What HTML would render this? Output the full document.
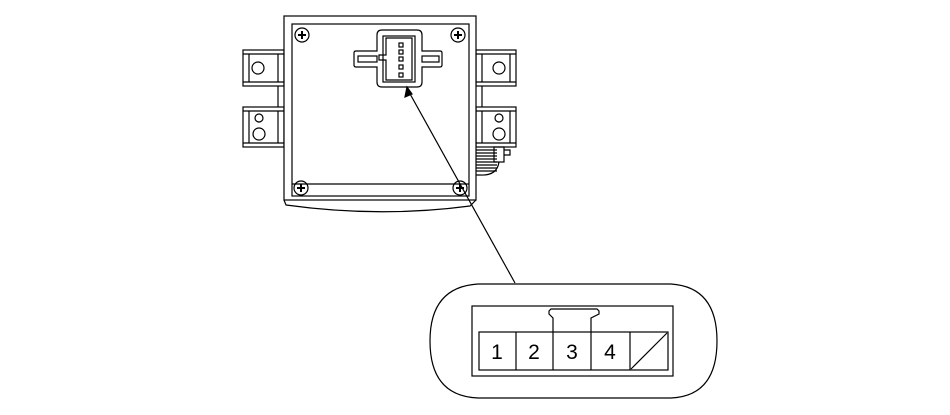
<!DOCTYPE html>
<html><head><style>body{margin:0;background:#fff}svg{display:block}</style></head><body>
<svg width="950" height="415" viewBox="0 0 950 415" xmlns="http://www.w3.org/2000/svg" fill="none" stroke="#000" stroke-width="1.2">
<rect x="0" y="0" width="950" height="415" fill="#fff" stroke="none"/>
<!-- brackets left -->
<rect x="243" y="50" width="41" height="36"/><line x1="243" y1="54" x2="284" y2="54"/><line x1="243" y1="82" x2="284" y2="82"/><line x1="249" y1="54" x2="249" y2="82"/><line x1="278" y1="54" x2="278" y2="82"/>
<circle cx="258" cy="68" r="6"/>
<rect x="243" y="107" width="41" height="40"/><line x1="243" y1="111" x2="284" y2="111"/><line x1="243" y1="143" x2="284" y2="143"/><line x1="249" y1="111" x2="249" y2="143"/><line x1="278" y1="111" x2="278" y2="143"/>
<circle cx="259" cy="118" r="4"/><circle cx="259" cy="134" r="6"/>
<line x1="278" y1="86" x2="278" y2="107"/>
<!-- brackets right -->
<rect x="476" y="50" width="40" height="36"/><line x1="476" y1="54" x2="516" y2="54"/><line x1="476" y1="82" x2="516" y2="82"/><line x1="482" y1="54" x2="482" y2="82"/><line x1="510" y1="54" x2="510" y2="82"/>
<circle cx="499" cy="68" r="6"/>
<rect x="476" y="107" width="40" height="40"/><line x1="476" y1="111" x2="516" y2="111"/><line x1="476" y1="143" x2="516" y2="143"/><line x1="482" y1="111" x2="482" y2="143"/><line x1="510" y1="111" x2="510" y2="143"/>
<circle cx="499" cy="118" r="4"/><circle cx="499" cy="134" r="6"/>
<line x1="482" y1="86" x2="482" y2="107"/>
<!-- cable -->
<path d="M469 150 H497 M469 153 H497 M469 156 H497 M469 159 H497 M469 162 H497 M469 165 H497 M469 168 H497 M469 171 H497"/>
<rect x="494" y="147" width="10" height="15"/><path d="M504 150 H510 V155 H504"/>
<path d="M499 162 Q497 176 480 175 H476"/>
<!-- main box -->
<rect x="284" y="16" width="192" height="184" fill="#fff"/>
<path d="M284 200 L286 205 Q380 218 470 206 L476 200" />
<rect x="292" y="24" width="177" height="172"/>
<line x1="292" y1="184" x2="469" y2="184"/>
<g>
<circle cx="302" cy="35" r="7"/><circle cx="458" cy="35" r="7"/><circle cx="301" cy="188" r="7"/><circle cx="460" cy="188" r="7"/>
<path d="M298 35h8M302 31v8M454 35h8M458 31v8M297 188h8M301 184v8M456 188h8M460 184v8" stroke-width="2"/>
</g>
<!-- connector -->
<path d="M377 35 Q377 30 382 30 H417 Q422 30 422 35 V51 H440 Q442 51 442 53 V65 Q442 67 440 67 H422 V82 Q422 87 417 87 H382 Q377 87 377 82 V67 H356 Q354 67 354 65 V53 Q354 51 356 51 H377 Z" fill="#fff"/>
<rect x="358" y="56" width="19" height="6"/><rect x="422" y="56" width="17" height="6"/>
<rect x="383" y="36" width="32" height="46"/>
<path d="M386 38 V55 H379 V60 H386 V80 H412 V38 Z"/>
<rect x="399" y="43" width="4" height="4"/><rect x="399" y="50" width="4" height="4"/><rect x="399" y="57" width="4" height="4"/><rect x="399" y="65" width="4" height="4"/><rect x="399" y="73" width="4" height="4"/>
<!-- arrow -->
<line x1="515" y1="283" x2="409" y2="92"/>
<path d="M407 87 L405 97 L412 94 Z" fill="#000"/>
<!-- oval -->
<path d="M478 284 H671 Q717 287 717 341 Q717 396 671 398 H478 Q430 396 430 341 Q430 287 478 284 Z"/>
<rect x="472" y="306" width="201" height="70"/>
<path d="M553 332 V318 L549 314 V311 L551 309 H597 L599 311 V314 L591 318 V332"/>
<rect x="479" y="332" width="189" height="38"/>
<line x1="516" y1="332" x2="516" y2="370"/><line x1="553" y1="332" x2="553" y2="370"/><line x1="591" y1="332" x2="591" y2="370"/><line x1="630" y1="332" x2="630" y2="370"/>
<line x1="631" y1="369" x2="667" y2="333"/>
<g font-family="Liberation Sans, sans-serif" font-size="21" fill="#000" stroke="none" text-anchor="middle">
<text x="497" y="359">1</text><text x="534" y="359">2</text><text x="572" y="359">3</text><text x="610" y="359">4</text>
</g>
</svg>
</body></html>
